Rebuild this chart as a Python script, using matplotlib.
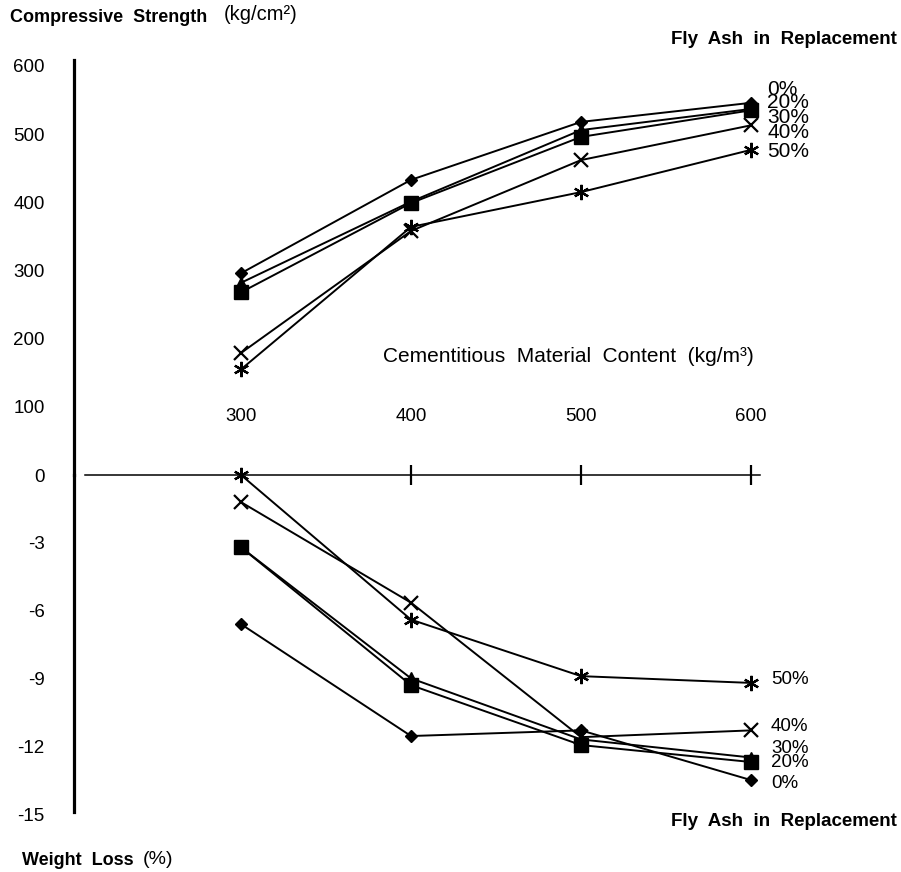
import matplotlib
matplotlib.use("Agg")
import matplotlib.pyplot as plt

plt.rcParams['font.family'] = ['Liberation Sans', 'DejaVu Sans']

# cementitious material content (kg/m3)
content = [300, 400, 500, 600]
fly_ash = ['0%', '20%', '30%', '40%', '50%']

# compressive strength (kg/cm2)
strength_0 = [296, 433, 518, 546]
strength_20 = [268, 399, 496, 535]
strength_30 = [282, 401, 506, 537]
strength_40 = [179, 358, 462, 513]
strength_50 = [155, 364, 415, 477]

# weight loss (%)
loss_0 = [-6.6, -11.55, -11.3, -13.5]
loss_20 = [-3.2, -9.3, -11.95, -12.7]
loss_30 = [-3.2, -9.0, -11.7, -12.5]
loss_40 = [-1.2, -5.65, -11.6, -11.3]
loss_50 = [0.0, -6.4, -8.9, -9.2]

strength_ticks = [100, 200, 300, 400, 500, 600]
loss_ticks = [0, -3, -6, -9, -12, -15]

strength = [strength_0, strength_20, strength_30, strength_40, strength_50]
loss = [loss_0, loss_20, loss_30, loss_40, loss_50]

# marker styles per fly ash level
styles = [
    dict(marker='D', ms=6.5),
    dict(marker='s', ms=10),
    dict(marker='^', ms=8.5),
    dict(marker='x', ms=10, mew=1.6),
    dict(marker=(6, 2, 0), ms=11, mew=1.6),
]

W, H = 901, 872
fig = plt.figure(figsize=(W / 100, H / 100), dpi=100)
ax_top = fig.add_axes([74 / W, (H - 475) / H, (W - 74) / W, (475 - 60) / H])
ax_bot = fig.add_axes([74 / W, (H - 814) / H, (W - 74) / W, (814 - 475) / H])

xlim = (201.76, 688.2)
for ax in (ax_top, ax_bot):
    ax.set_xlim(*xlim)
    for s in ax.spines.values():
        s.set_visible(False)
    ax.patch.set_visible(False)

ax_top.set_ylim(0, 608.8)
ax_bot.set_ylim(-15, 0)

for vals, st in zip(strength, styles):
    ax_top.plot(content, vals, color='black', lw=1.4, mfc='black', mec='black',
                clip_on=False, **st)
for vals, st in zip(loss, styles):
    ax_bot.plot(content, vals, color='black', lw=1.4, mfc='black', mec='black',
                clip_on=False, **st)

# thick vertical axis
ax_top.spines['left'].set_visible(True)
ax_top.spines['left'].set_linewidth(2.3)
ax_bot.spines['left'].set_visible(True)
ax_bot.spines['left'].set_linewidth(2.3)
ax_bot.spines['left'].set_bounds(-14.9, 0)

# horizontal axis at zero
ax_bot.spines['top'].set_visible(True)
ax_bot.spines['top'].set_linewidth(1.1)
ax_bot.spines['top'].set_bounds(208, 605)
ax_bot.xaxis.tick_top()
ax_bot.set_xticks(content[1:])
ax_bot.tick_params(axis='x', direction='inout', length=14, width=1.6,
                   labeltop=False, labelbottom=False)
ax_top.set_xticks([])

ax_top.set_yticks(strength_ticks)
ax_top.set_yticklabels([str(v) for v in strength_ticks])
ax_bot.set_yticks(loss_ticks)
ax_bot.set_yticklabels([str(v) for v in loss_ticks])
for ax in (ax_top, ax_bot):
    ax.tick_params(axis='y', length=0, pad=21, labelsize=13.5)

# x tick labels sit above the zero line
for c in content:
    ax_top.text(c, 86, str(c), ha='center', va='center', fontsize=13.5)

ax_top.text(383.5, 174, 'Cementitious  Material  Content  (kg/m³)',
            ha='left', va='center', fontsize=15)

# series labels
top_label_y = [566, 546, 525, 502, 475]
for lab, y in zip(fly_ash, top_label_y):
    ax_top.text(609.4, y, lab, ha='left', va='center', fontsize=15)
bot_label_y = [-13.67, -12.7, -12.08, -11.15, -9.03]
for lab, y in zip(fly_ash, bot_label_y):
    ax_bot.text(611.8, y, lab, ha='left', va='center', fontsize=13.5)

fig.text(10 / W, 1 - 17 / H, 'Compressive  Strength', fontsize=13,
         fontweight='bold', va='center', ha='left')
fig.text(224 / W, 1 - 15 / H, '(kg/cm²)', fontsize=14.5, va='center', ha='left')
fig.text(897 / W, 1 - 40 / H, 'Fly  Ash  in  Replacement', fontsize=13.5,
         fontweight='bold', va='center', ha='right')
fig.text(897 / W, 1 - 821 / H, 'Fly  Ash  in  Replacement', fontsize=13.5,
         fontweight='bold', va='center', ha='right')
fig.text(22 / W, 1 - 860 / H, 'Weight  Loss', fontsize=13,
         fontweight='bold', va='center', ha='left')
fig.text(143 / W, 1 - 859 / H, '(%)', fontsize=14, va='center', ha='left')

fig.savefig('out.png', dpi=100)
